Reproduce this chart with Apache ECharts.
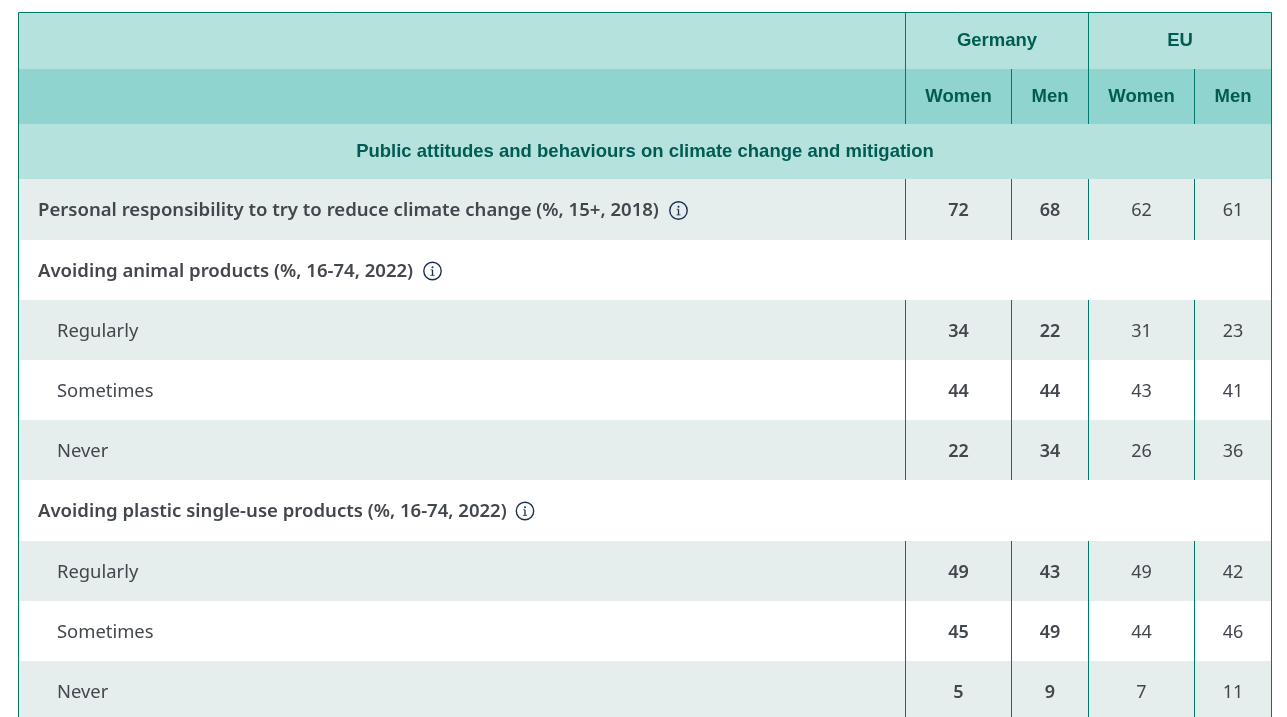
<!DOCTYPE html>
<html lang="en">
<head>
<meta charset="UTF-8">
<title>Public attitudes and behaviours on climate change and mitigation</title>
<style>
    html, body { margin: 0; padding: 0; background: #fff; }
    #chart { width: 1287px; height: 717px; }
</style>
</head>
<body>
<div id="chart"></div>
<script src="https://cdn.jsdelivr.net/npm/echarts@6/dist/echarts.min.js"></script>
<script>
    // table content
    var sectionTitle = 'Public attitudes and behaviours on climate change and mitigation';
    var countries = ['Germany', 'EU'];
    var genders = ['Women', 'Men', 'Women', 'Men'];
    var rowLabels = [
        'Personal responsibility to try to reduce climate change (%, 15+, 2018)',
        'Avoiding animal products (%, 16-74, 2022)',
        'Regularly', 'Sometimes', 'Never',
        'Avoiding plastic single-use products (%, 16-74, 2022)',
        'Regularly', 'Sometimes', 'Never'
    ];
    var germanyWomen = [72, null, 34, 44, 22, null, 49, 45, 5];
    var germanyMen = [68, null, 22, 44, 34, null, 43, 49, 9];
    var euWomen = [62, null, 31, 43, 26, null, 49, 44, 7];
    var euMen = [61, null, 23, 41, 36, null, 42, 46, 11];

    // layout, in the pixel scale of the two axes
    var xEdges = [18.5, 905.5, 1011.5, 1088.5, 1194.5, 1271.5];
    var yEdges = [12.5, 69, 124, 179, 240, 300, 360, 420, 480, 541, 601, 661, 721];
    var iconX = { 0: 678.5, 1: 432.5, 5: 525 };
    var iconY = { 0: 210.5, 1: 271, 5: 511 };

    var TEAL_LIGHT = '#b6e2de';
    var TEAL_MID = '#8fd4ce';
    var SHADE = '#e5eded';
    var LINE = '#00786c';
    var HEAD_TEXT = '#005c53';
    var BODY_TEXT = '#42464d';
    var ICON = '#1a2f4b';
    var HEAD_FONT = '"Liberation Sans", Arial, sans-serif';
    var BODY_FONT = '"Noto Sans", sans-serif';
    var HEAD_SIZE = 18.5;
    var LABEL_SIZE = 18.4;
    var HEADING_SIZE = 18.56;

    var valueColumns = [germanyWomen, germanyMen, euWomen, euMen];

    function bandRect(api, x0, x1, y0, y1, fill) {
        var a = api.coord([x0, y0]);
        var b = api.coord([x1, y1]);
        return { type: 'rect', shape: { x: a[0], y: a[1], width: b[0] - a[0], height: b[1] - a[1] }, style: { fill: fill }, silent: true };
    }
    function rule(api, x0, y0, x1, y1) {
        var a = api.coord([x0, y0]);
        var b = api.coord([x1, y1]);
        return { type: 'line', shape: { x1: a[0], y1: a[1], x2: b[0], y2: b[1] }, style: { stroke: LINE, lineWidth: 1 }, silent: true };
    }
    function label(api, x, y, text, align, size, weight, family, color) {
        var p = api.coord([x, y]);
        return {
            type: 'text',
            style: {
                x: p[0], y: p[1], text: text, textAlign: align, textVerticalAlign: 'middle',
                fontSize: size, fontWeight: weight, fontFamily: family, fill: color
            },
            silent: true
        };
    }
    function infoIcon(api, x, y) {
        var p = api.coord([x, y]);
        return {
            type: 'group',
            silent: true,
            children: [
                { type: 'circle', shape: { cx: p[0], cy: p[1], r: 8.7 }, style: { fill: 'none', stroke: ICON, lineWidth: 1.4 } },
                { type: 'circle', shape: { cx: p[0], cy: p[1] - 3.8, r: 1 }, style: { fill: ICON } },
                { type: 'line', shape: { x1: p[0], y1: p[1] - 1.2, x2: p[0], y2: p[1] + 4.4 }, style: { stroke: ICON, lineWidth: 1.3 } },
                { type: 'line', shape: { x1: p[0] - 1.8, y1: p[1] - 1.2, x2: p[0], y2: p[1] - 1.2 }, style: { stroke: ICON, lineWidth: 0.8 } },
                { type: 'line', shape: { x1: p[0] - 2, y1: p[1] + 4.4, x2: p[0] + 2, y2: p[1] + 4.4 }, style: { stroke: ICON, lineWidth: 0.8 } }
            ]
        };
    }

    // header rows + body rows, one custom item per row
    function renderRow(params, api) {
        var r = api.value(0);
        var top = yEdges[r], bottom = yEdges[r + 1];
        var mid = Math.round((top + bottom) / 2 + 1.6);
        var left = xEdges[0], right = xEdges[5];
        var kids = [];
        var i;

        if (r === 0) {
            kids.push(bandRect(api, left, right, top, bottom, TEAL_LIGHT));
            kids.push(rule(api, left, top, right, top));
            kids.push(rule(api, xEdges[1], top, xEdges[1], bottom));
            kids.push(rule(api, xEdges[3], top, xEdges[3], bottom));
            kids.push(label(api, (xEdges[1] + xEdges[3]) / 2, 41, countries[0], 'center', HEAD_SIZE, 'bold', HEAD_FONT, HEAD_TEXT));
            kids.push(label(api, (xEdges[3] + xEdges[5]) / 2, 41, countries[1], 'center', HEAD_SIZE, 'bold', HEAD_FONT, HEAD_TEXT));
        } else if (r === 1) {
            kids.push(bandRect(api, left, right, top, bottom, TEAL_MID));
            for (i = 0; i < 4; i++) {
                kids.push(rule(api, xEdges[i + 1], top, xEdges[i + 1], bottom));
                kids.push(label(api, (xEdges[i + 1] + xEdges[i + 2]) / 2, 97, genders[i], 'center', HEAD_SIZE, 'bold', HEAD_FONT, HEAD_TEXT));
            }
        } else if (r === 2) {
            kids.push(bandRect(api, left, right, top, bottom, TEAL_LIGHT));
            kids.push(label(api, 645, 152, sectionTitle, 'center', HEAD_SIZE, 'bold', HEAD_FONT, HEAD_TEXT));
        } else {
            var b = r - 3;
            var heading = germanyWomen[b] === null;
            var topLevel = heading || b === 0;
            var shaded = b % 2 === 0;
            kids.push(bandRect(api, left, right, top, bottom, shaded ? SHADE : '#ffffff'));
            kids.push(label(api, topLevel ? 38 : 57, mid, rowLabels[b], 'left', topLevel ? HEADING_SIZE : LABEL_SIZE, topLevel ? 600 : 400, BODY_FONT, BODY_TEXT));
            if (iconX[b]) {
                kids.push(infoIcon(api, iconX[b], iconY[b]));
            }
            if (!heading) {
                for (i = 0; i < 4; i++) {
                    kids.push(rule(api, xEdges[i + 1], top, xEdges[i + 1], bottom));
                    kids.push(label(api, (xEdges[i + 1] + xEdges[i + 2]) / 2, mid, String(valueColumns[i][b]), 'center', 18, i < 2 ? 600 : 400, BODY_FONT, BODY_TEXT));
                }
            }
        }
        // outer frame runs down every row
        kids.push(rule(api, left, top, left, bottom));
        kids.push(rule(api, right, top, right, bottom));
        return { type: 'group', children: kids };
    }

    var rowIndex = [];
    for (var n = 0; n < rowLabels.length + 3; n++) {
        rowIndex.push([n]);
    }

    var myChart = echarts.init(document.getElementById('chart'));
    myChart.setOption({
        animation: false,
        backgroundColor: '#ffffff',
        grid: { left: 0, right: 0, top: 0, bottom: 0, containLabel: false },
        xAxis: { type: 'value', min: 0, max: 1287, show: false },
        yAxis: { type: 'value', min: 0, max: 717, inverse: true, show: false },
        tooltip: { show: false },
        series: [{
            type: 'custom',
            coordinateSystem: 'cartesian2d',
            clip: true,
            renderItem: renderRow,
            encode: { x: 0 },
            data: rowIndex
        }]
    });
</script>
</body>
</html>
